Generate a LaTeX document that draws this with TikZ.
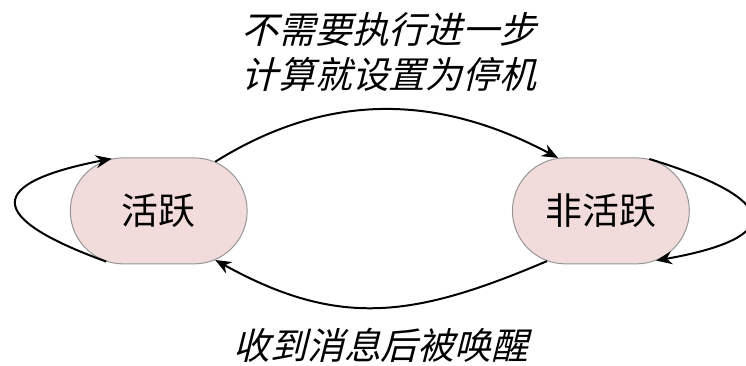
\documentclass[tikz,border=0pt]{standalone}
\usepackage{fontspec}
\usepackage{tikz}
\usetikzlibrary{shapes.misc, arrows.meta}
\newfontfamily\cjk{Noto Sans CJK SC}
\newfontfamily\cjkslant[FakeSlant=0.25]{Noto Sans CJK SC}
\definecolor{statefill}{RGB}{242,220,219}
\definecolor{stateline}{RGB}{150,150,150}
\tikzset{
  statenode/.style={shape=rounded rectangle, draw=stateline, line width=0.5pt, fill=statefill,
    minimum width=3.12cm, minimum height=1.87cm, inner sep=0pt, font=\cjk\fontsize{18.5}{22}\selectfont},
  edgearrow/.style={line width=1pt, -{Stealth[length=8pt, width=6.5pt]}},
  notetext/.style={align=center, font=\cjkslant\fontsize{18.5}{22.5}\selectfont}
}

\begin{document}
\begin{tikzpicture}
  \useasboundingbox (0, 0) rectangle (13.16, 6.44);
  \node (active) at (2.80, 2.72) [statenode] {活跃};
  \node (inactive) at (10.60, 2.72) [statenode] {非活跃};
  \node (haltnote) at (6.86, 5.52) [notetext] {不需要执行进一步\\计算就设置为停机};
  \node (wakenote) at (6.72, 0.34) [notetext] {收到消息后被唤醒};
  \draw[edgearrow] (active.41) to[out=32, in=152] (inactive.129);
  \draw[edgearrow] (inactive.223) to[out=203, in=331, looseness=1.1] (active.319);
  \draw[edgearrow] (active.224) to[out=160, in=191, looseness=3.2] (active.132);
  \draw[edgearrow] (inactive.47) to[out=-17, in=10, looseness=3.4] (inactive.-42);
\end{tikzpicture}
\end{document}
